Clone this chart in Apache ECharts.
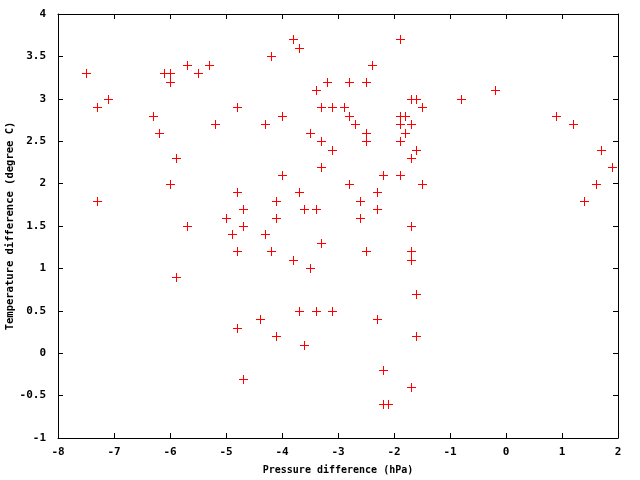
<!DOCTYPE html>
<html>
<head>
<meta charset="utf-8">
<script src="https://cdn.jsdelivr.net/npm/echarts@6/dist/echarts.min.js"></script>
<style>
  html, body { margin: 0; padding: 0; background: #fff; }
  #chart { width: 640px; height: 480px; }
</style>
</head>
<body>
<div id="chart"></div>
<script>
// pressure difference (hPa) and temperature difference (degree C), one pair per point
const pressureDiff = [
  -7.5, -6.1, -6.0, -6.0, -5.7, -5.5, -5.3, -7.3, -7.1, -6.3, -6.2, -4.8, -5.2, -5.9,
  -3.8, -3.7, -4.2, -2.4, -3.2, -2.8, -2.5, -3.4, -3.3, -3.1, -2.9, -4.0, -2.8, -4.3,
  -2.7, -3.5, -2.5, -3.3, -2.5, -3.1,
  -1.9, -0.2, -0.8, -1.7, -1.6, -1.5, -1.9, -1.8, -1.9, -1.7, -1.8, -1.9, -1.6, -1.7,
  0.9, 1.2, 1.7,
  -6.0, -4.8, -7.3, -4.7, -5.0, -5.7, -4.7, -4.9, -4.8, -5.9,
  -3.3, -4.0, -2.2, -2.8, -3.7, -2.3, -4.1, -2.6, -3.6, -3.4, -2.3, -4.1, -2.6, -4.3,
  -3.3, -4.2, -2.5, -3.8, -3.5,
  -1.9, -1.5, -1.7, -1.7, -1.7, -1.6, 1.9, 1.6, 1.4,
  -4.8, -4.7, -4.4, -3.7, -3.4, -3.1, -4.1, -3.6, -2.3, -2.2, -2.2, -2.1, -1.6, -1.7
];
const tempDiff = [
  3.3, 3.3, 3.3, 3.2, 3.4, 3.3, 3.4, 2.9, 3.0, 2.8, 2.6, 2.9, 2.7, 2.3,
  3.7, 3.6, 3.5, 3.4, 3.2, 3.2, 3.2, 3.1, 2.9, 2.9, 2.9, 2.8, 2.8, 2.7,
  2.7, 2.6, 2.6, 2.5, 2.5, 2.4,
  3.7, 3.1, 3.0, 3.0, 3.0, 2.9, 2.8, 2.8, 2.7, 2.7, 2.6, 2.5, 2.4, 2.3,
  2.8, 2.7, 2.4,
  2.0, 1.9, 1.8, 1.7, 1.6, 1.5, 1.5, 1.4, 1.2, 0.9,
  2.2, 2.1, 2.1, 2.0, 1.9, 1.9, 1.8, 1.8, 1.7, 1.7, 1.7, 1.6, 1.6, 1.4,
  1.3, 1.2, 1.2, 1.1, 1.0,
  2.1, 2.0, 1.5, 1.2, 1.1, 0.7, 2.2, 2.0, 1.8,
  0.3, -0.3, 0.4, 0.5, 0.5, 0.5, 0.2, 0.1, 0.4, -0.2, -0.6, -0.6, 0.2, -0.4
];

const xName = 'Pressure difference (hPa)';
const yName = 'Temperature difference (degree C)';

const tickFont = {
  fontFamily: 'DejaVu Sans Mono',
  fontWeight: 'bold',
  fontSize: 11,
  color: '#000'
};
const xNameFont = Object.assign({}, tickFont, { fontSize: 10 });
const yNameFont = Object.assign({}, tickFont, { fontSize: 10.5 });

const chart = echarts.init(document.getElementById('chart'), null, { renderer: 'canvas' });

const points = pressureDiff.map((x, i) => [x, tempDiff[i]]);

// gnuplot style "+" marker, snapped to the pixel grid so the strokes stay 1px sharp
function renderPlus(params, api) {
  const p = api.coord([api.value(0), api.value(1)]);
  const cx = Math.round(p[0]) + 0.5;
  const cy = Math.round(p[1]) + 0.5;
  const style = { stroke: '#ff0000', lineWidth: 1 };
  return {
    type: 'group',
    children: [
      { type: 'line', shape: { x1: cx - 4.5, y1: cy, x2: cx + 4.5, y2: cy }, style },
      { type: 'line', shape: { x1: cx, y1: cy - 4.5, x2: cx, y2: cy + 4.5 }, style }
    ]
  };
}

function boxAxis(extra) {
  return Object.assign({
    type: 'value',
    axisLine: { show: true, onZero: false, lineStyle: { color: '#000', width: 1 } },
    axisTick: { show: true, inside: true, length: 5, lineStyle: { color: '#000', width: 1 } },
    splitLine: { show: false }
  }, extra);
}

chart.setOption({
  animation: false,
  backgroundColor: '#fff',
  grid: {
    left: 58, right: 22, top: 14, bottom: 42,
    containLabel: false,
    outerBoundsMode: 'none'
  },
  xAxis: [
    boxAxis({
      position: 'bottom',
      min: -8, max: 2, interval: 1,
      name: xName,
      nameLocation: 'middle',
      nameGap: 27,
      nameMoveOverlap: false,
      nameTextStyle: xNameFont,
      axisLabel: Object.assign({ margin: 9 }, tickFont)
    }),
    boxAxis({
      position: 'top',
      min: -8, max: 2, interval: 1,
      axisLabel: { show: false }
    })
  ],
  yAxis: [
    boxAxis({
      position: 'left',
      min: -1, max: 4, interval: 0.5,
      name: yName,
      nameLocation: 'middle',
      nameGap: 42,
      nameMoveOverlap: false,
      nameTextStyle: yNameFont,
      axisLabel: Object.assign({ margin: 12 }, tickFont)
    }),
    boxAxis({
      position: 'right',
      min: -1, max: 4, interval: 0.5,
      axisLabel: { show: false }
    })
  ],
  series: [{
    type: 'custom',
    xAxisIndex: 0,
    yAxisIndex: 0,
    renderItem: renderPlus,
    encode: { x: 0, y: 1 },
    data: points
  }]
});
</script>
</body>
</html>
